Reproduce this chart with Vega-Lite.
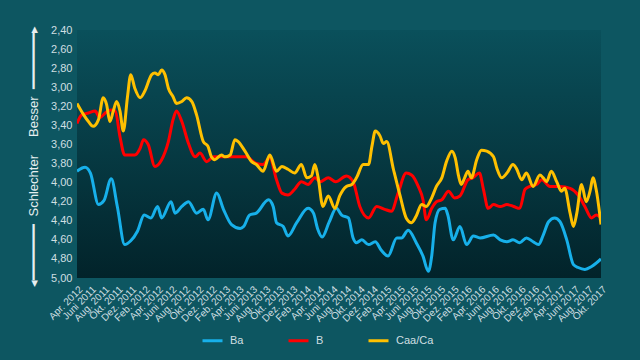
{
  "$schema": "https://vega.github.io/schema/vega-lite/v6.json",
  "autosize": "none",
  "padding": {"left": 77, "top": 30, "right": 39, "bottom": 82},
  "width": 524,
  "height": 248,
  "background": "#0d5661",
  "config": {
    "font": "Liberation Sans",
    "view": {"stroke": null, "fill": {"gradient": "linear", "x1": 0, "y1": 0, "x2": 0, "y2": 1, "stops": [{"offset": 0, "color": "#0a505b"}, {"offset": 1, "color": "#02232a"}]}}
  },
  "data": {"values": [
    {"s":"Ba","m":0,"v":3.88},{"s":"Ba","m":1.2,"v":3.84},{"s":"Ba","m":2,"v":3.9},{"s":"Ba","m":3.2,"v":4.23},{"s":"Ba","m":4,"v":4.19},{"s":"Ba","m":5.1,"v":3.96},{"s":"Ba","m":6,"v":4.25},{"s":"Ba","m":7.1,"v":4.65},{"s":"Ba","m":8,"v":4.61},{"s":"Ba","m":9,"v":4.51},{"s":"Ba","m":10,"v":4.34},{"s":"Ba","m":11,"v":4.37},{"s":"Ba","m":12,"v":4.25},{"s":"Ba","m":12.6,"v":4.37},{"s":"Ba","m":14,"v":4.2},{"s":"Ba","m":14.6,"v":4.32},{"s":"Ba","m":15.6,"v":4.25},{"s":"Ba","m":16.6,"v":4.2},{"s":"Ba","m":17.8,"v":4.32},{"s":"Ba","m":18.8,"v":4.28},{"s":"Ba","m":19.5,"v":4.39},{"s":"Ba","m":20.8,"v":4.11},{"s":"Ba","m":21.8,"v":4.28},{"s":"Ba","m":23,"v":4.44},{"s":"Ba","m":24.3,"v":4.48},{"s":"Ba","m":24.8,"v":4.46},{"s":"Ba","m":25.7,"v":4.34},{"s":"Ba","m":26.7,"v":4.32},{"s":"Ba","m":28.5,"v":4.18},{"s":"Ba","m":29.2,"v":4.25},{"s":"Ba","m":29.7,"v":4.42},{"s":"Ba","m":30.7,"v":4.46},{"s":"Ba","m":31.4,"v":4.56},{"s":"Ba","m":32.7,"v":4.42},{"s":"Ba","m":34.4,"v":4.27},{"s":"Ba","m":35.2,"v":4.32},{"s":"Ba","m":35.8,"v":4.48},{"s":"Ba","m":36.5,"v":4.57},{"s":"Ba","m":37.5,"v":4.42},{"s":"Ba","m":38.6,"v":4.27},{"s":"Ba","m":39.4,"v":4.34},{"s":"Ba","m":40.4,"v":4.37},{"s":"Ba","m":41.1,"v":4.58},{"s":"Ba","m":41.6,"v":4.63},{"s":"Ba","m":42.4,"v":4.6},{"s":"Ba","m":43.4,"v":4.65},{"s":"Ba","m":44.4,"v":4.62},{"s":"Ba","m":45.3,"v":4.71},{"s":"Ba","m":46.3,"v":4.77},{"s":"Ba","m":47.6,"v":4.58},{"s":"Ba","m":48.3,"v":4.58},{"s":"Ba","m":49.3,"v":4.5},{"s":"Ba","m":50.5,"v":4.63},{"s":"Ba","m":51.5,"v":4.77},{"s":"Ba","m":52.3,"v":4.93},{"s":"Ba","m":52.8,"v":4.77},{"s":"Ba","m":53.3,"v":4.42},{"s":"Ba","m":54,"v":4.28},{"s":"Ba","m":54.8,"v":4.27},{"s":"Ba","m":55.2,"v":4.34},{"s":"Ba","m":56,"v":4.6},{"s":"Ba","m":57,"v":4.46},{"s":"Ba","m":58,"v":4.65},{"s":"Ba","m":59,"v":4.56},{"s":"Ba","m":60,"v":4.58},{"s":"Ba","m":62,"v":4.55},{"s":"Ba","m":63,"v":4.6},{"s":"Ba","m":64,"v":4.62},{"s":"Ba","m":64.9,"v":4.6},{"s":"Ba","m":65.9,"v":4.63},{"s":"Ba","m":66.9,"v":4.58},{"s":"Ba","m":67.9,"v":4.62},{"s":"Ba","m":68.7,"v":4.65},{"s":"Ba","m":69.4,"v":4.55},{"s":"Ba","m":70.2,"v":4.41},{"s":"Ba","m":71.1,"v":4.37},{"s":"Ba","m":71.9,"v":4.41},{"s":"Ba","m":72.9,"v":4.6},{"s":"Ba","m":73.9,"v":4.86},{"s":"Ba","m":74.6,"v":4.89},{"s":"Ba","m":75.6,"v":4.91},{"s":"Ba","m":76.6,"v":4.88},{"s":"Ba","m":78,"v":4.8},
    {"s":"B","m":0,"v":3.38},{"s":"B","m":0.7,"v":3.29},{"s":"B","m":1.7,"v":3.27},{"s":"B","m":2.7,"v":3.25},{"s":"B","m":3.4,"v":3.32},{"s":"B","m":4.2,"v":3.27},{"s":"B","m":5,"v":3.24},{"s":"B","m":5.7,"v":3.25},{"s":"B","m":6.4,"v":3.52},{"s":"B","m":7.1,"v":3.71},{"s":"B","m":8.6,"v":3.71},{"s":"B","m":9.4,"v":3.64},{"s":"B","m":9.9,"v":3.55},{"s":"B","m":10.6,"v":3.6},{"s":"B","m":11.6,"v":3.83},{"s":"B","m":12.6,"v":3.76},{"s":"B","m":13.6,"v":3.57},{"s":"B","m":14.3,"v":3.34},{"s":"B","m":14.8,"v":3.25},{"s":"B","m":15.6,"v":3.36},{"s":"B","m":16.6,"v":3.59},{"s":"B","m":17.6,"v":3.73},{"s":"B","m":18.3,"v":3.69},{"s":"B","m":19.3,"v":3.78},{"s":"B","m":20.3,"v":3.73},{"s":"B","m":21.8,"v":3.73},{"s":"B","m":23.3,"v":3.73},{"s":"B","m":25.2,"v":3.73},{"s":"B","m":26.7,"v":3.8},{"s":"B","m":27.7,"v":3.81},{"s":"B","m":28.7,"v":3.74},{"s":"B","m":29.7,"v":3.97},{"s":"B","m":30.5,"v":4.11},{"s":"B","m":31.4,"v":4.13},{"s":"B","m":32.4,"v":4.07},{"s":"B","m":33.4,"v":3.99},{"s":"B","m":34.4,"v":4.02},{"s":"B","m":35.4,"v":3.95},{"s":"B","m":36.2,"v":3.99},{"s":"B","m":37.4,"v":3.95},{"s":"B","m":38.5,"v":3.99},{"s":"B","m":40.1,"v":3.93},{"s":"B","m":41.1,"v":3.99},{"s":"B","m":42.1,"v":4.25},{"s":"B","m":43.4,"v":4.37},{"s":"B","m":44.6,"v":4.25},{"s":"B","m":45.8,"v":4.28},{"s":"B","m":46.8,"v":4.3},{"s":"B","m":47.8,"v":4.11},{"s":"B","m":49,"v":3.9},{"s":"B","m":49.8,"v":3.92},{"s":"B","m":50.8,"v":4.04},{"s":"B","m":51.5,"v":4.18},{"s":"B","m":52,"v":4.39},{"s":"B","m":52.8,"v":4.27},{"s":"B","m":53.5,"v":4.2},{"s":"B","m":54.3,"v":4.18},{"s":"B","m":55.3,"v":4.09},{"s":"B","m":56.2,"v":4.16},{"s":"B","m":57,"v":4.14},{"s":"B","m":58.2,"v":3.97},{"s":"B","m":58.9,"v":3.95},{"s":"B","m":59.9,"v":3.9},{"s":"B","m":60.5,"v":4.07},{"s":"B","m":61.2,"v":4.27},{"s":"B","m":62,"v":4.23},{"s":"B","m":63,"v":4.25},{"s":"B","m":64,"v":4.23},{"s":"B","m":65,"v":4.25},{"s":"B","m":65.9,"v":4.27},{"s":"B","m":66.7,"v":4.07},{"s":"B","m":67.4,"v":4.04},{"s":"B","m":68.4,"v":4.02},{"s":"B","m":69.2,"v":3.97},{"s":"B","m":70.4,"v":4.04},{"s":"B","m":71.9,"v":4.04},{"s":"B","m":73.4,"v":4.06},{"s":"B","m":74.6,"v":4.13},{"s":"B","m":75.6,"v":4.25},{"s":"B","m":76.6,"v":4.37},{"s":"B","m":77.3,"v":4.34},{"s":"B","m":78,"v":4.37},
    {"s":"Caa/Ca","m":0,"v":3.17},{"s":"Caa/Ca","m":1,"v":3.29},{"s":"Caa/Ca","m":1.7,"v":3.36},{"s":"Caa/Ca","m":2.4,"v":3.41},{"s":"Caa/Ca","m":3.2,"v":3.34},{"s":"Caa/Ca","m":3.9,"v":3.11},{"s":"Caa/Ca","m":4.4,"v":3.18},{"s":"Caa/Ca","m":4.9,"v":3.36},{"s":"Caa/Ca","m":5.4,"v":3.25},{"s":"Caa/Ca","m":5.9,"v":3.15},{"s":"Caa/Ca","m":6.4,"v":3.25},{"s":"Caa/Ca","m":6.9,"v":3.46},{"s":"Caa/Ca","m":7.5,"v":3.11},{"s":"Caa/Ca","m":8,"v":2.87},{"s":"Caa/Ca","m":8.6,"v":3.01},{"s":"Caa/Ca","m":9.4,"v":3.11},{"s":"Caa/Ca","m":10.1,"v":3.04},{"s":"Caa/Ca","m":11.1,"v":2.87},{"s":"Caa/Ca","m":11.6,"v":2.85},{"s":"Caa/Ca","m":12.1,"v":2.87},{"s":"Caa/Ca","m":12.6,"v":2.82},{"s":"Caa/Ca","m":13.1,"v":2.87},{"s":"Caa/Ca","m":13.6,"v":3.01},{"s":"Caa/Ca","m":14.3,"v":3.1},{"s":"Caa/Ca","m":14.8,"v":3.17},{"s":"Caa/Ca","m":15.6,"v":3.15},{"s":"Caa/Ca","m":16.3,"v":3.11},{"s":"Caa/Ca","m":17.1,"v":3.15},{"s":"Caa/Ca","m":17.8,"v":3.29},{"s":"Caa/Ca","m":18.8,"v":3.57},{"s":"Caa/Ca","m":19.5,"v":3.62},{"s":"Caa/Ca","m":20,"v":3.73},{"s":"Caa/Ca","m":20.5,"v":3.76},{"s":"Caa/Ca","m":21.5,"v":3.71},{"s":"Caa/Ca","m":22,"v":3.73},{"s":"Caa/Ca","m":22.8,"v":3.71},{"s":"Caa/Ca","m":23.5,"v":3.55},{"s":"Caa/Ca","m":24,"v":3.57},{"s":"Caa/Ca","m":25,"v":3.67},{"s":"Caa/Ca","m":26,"v":3.78},{"s":"Caa/Ca","m":26.7,"v":3.81},{"s":"Caa/Ca","m":27.7,"v":3.88},{"s":"Caa/Ca","m":28.7,"v":3.71},{"s":"Caa/Ca","m":29.7,"v":3.88},{"s":"Caa/Ca","m":30.5,"v":3.83},{"s":"Caa/Ca","m":31.4,"v":3.86},{"s":"Caa/Ca","m":32.4,"v":3.9},{"s":"Caa/Ca","m":33.4,"v":3.81},{"s":"Caa/Ca","m":34.2,"v":3.95},{"s":"Caa/Ca","m":34.9,"v":3.93},{"s":"Caa/Ca","m":35.4,"v":3.81},{"s":"Caa/Ca","m":35.9,"v":3.95},{"s":"Caa/Ca","m":36.6,"v":4.25},{"s":"Caa/Ca","m":37.4,"v":4.14},{"s":"Caa/Ca","m":38.4,"v":4.27},{"s":"Caa/Ca","m":39.1,"v":4.14},{"s":"Caa/Ca","m":40.1,"v":4.04},{"s":"Caa/Ca","m":40.9,"v":4.02},{"s":"Caa/Ca","m":41.6,"v":3.95},{"s":"Caa/Ca","m":42.6,"v":3.81},{"s":"Caa/Ca","m":43.4,"v":3.81},{"s":"Caa/Ca","m":43.9,"v":3.62},{"s":"Caa/Ca","m":44.4,"v":3.46},{"s":"Caa/Ca","m":45.1,"v":3.51},{"s":"Caa/Ca","m":45.6,"v":3.59},{"s":"Caa/Ca","m":46.1,"v":3.57},{"s":"Caa/Ca","m":47.1,"v":3.86},{"s":"Caa/Ca","m":48.1,"v":4.14},{"s":"Caa/Ca","m":49,"v":4.37},{"s":"Caa/Ca","m":49.8,"v":4.42},{"s":"Caa/Ca","m":50.5,"v":4.35},{"s":"Caa/Ca","m":51.3,"v":4.23},{"s":"Caa/Ca","m":52,"v":4.25},{"s":"Caa/Ca","m":52.8,"v":4.16},{"s":"Caa/Ca","m":53.5,"v":4.04},{"s":"Caa/Ca","m":54.3,"v":3.95},{"s":"Caa/Ca","m":55,"v":3.78},{"s":"Caa/Ca","m":55.8,"v":3.67},{"s":"Caa/Ca","m":56.3,"v":3.74},{"s":"Caa/Ca","m":56.8,"v":3.93},{"s":"Caa/Ca","m":57.2,"v":4.02},{"s":"Caa/Ca","m":57.7,"v":3.95},{"s":"Caa/Ca","m":58.2,"v":3.88},{"s":"Caa/Ca","m":58.7,"v":3.95},{"s":"Caa/Ca","m":59.5,"v":3.76},{"s":"Caa/Ca","m":60.2,"v":3.66},{"s":"Caa/Ca","m":61,"v":3.67},{"s":"Caa/Ca","m":62,"v":3.73},{"s":"Caa/Ca","m":62.5,"v":3.85},{"s":"Caa/Ca","m":63.2,"v":3.95},{"s":"Caa/Ca","m":64,"v":3.9},{"s":"Caa/Ca","m":64.9,"v":3.81},{"s":"Caa/Ca","m":65.4,"v":3.85},{"s":"Caa/Ca","m":66.2,"v":3.97},{"s":"Caa/Ca","m":66.9,"v":3.9},{"s":"Caa/Ca","m":67.9,"v":4.04},{"s":"Caa/Ca","m":68.9,"v":3.92},{"s":"Caa/Ca","m":69.4,"v":3.95},{"s":"Caa/Ca","m":69.9,"v":3.99},{"s":"Caa/Ca","m":70.6,"v":3.88},{"s":"Caa/Ca","m":71.4,"v":3.99},{"s":"Caa/Ca","m":72.1,"v":4.09},{"s":"Caa/Ca","m":72.6,"v":4.06},{"s":"Caa/Ca","m":73.4,"v":4.32},{"s":"Caa/Ca","m":73.9,"v":4.46},{"s":"Caa/Ca","m":74.4,"v":4.32},{"s":"Caa/Ca","m":75.1,"v":4.02},{"s":"Caa/Ca","m":75.8,"v":4.2},{"s":"Caa/Ca","m":76.4,"v":4.08},{"s":"Caa/Ca","m":76.8,"v":3.95},{"s":"Caa/Ca","m":77.3,"v":4.08},{"s":"Caa/Ca","m":78,"v":4.44}
  ]},
  "mark": {"type": "line", "interpolate": "monotone", "strokeWidth": 3, "clip": true},
  "encoding": {
    "x": {"field": "m", "type": "quantitative", "scale": {"domain": [0, 78], "nice": false, "zero": false},
      "axis": {"title": null, "grid": false, "domain": false, "ticks": false, "values": [0,2,4,6,8,10,12,14,16,18,20,22,24,26,28,30,32,34,36,38,40,42,44,46,48,50,52,54,56,58,60,62,64,66,68,70,72,74,76,78],
        "labelExpr": "['Apr. 2012','Juni 2011','Aug. 2011','Okt. 2011','Dez. 2011','Feb. 2012','Apr. 2012','Juni 2012','Aug. 2012','Okt. 2012','Dez. 2012','Feb. 2013','Apr. 2013','Juni 2013','Aug. 2013','Okt. 2013','Dez. 2013','Feb. 2014','Apr. 2014','Juni 2014','Aug. 2014','Okt. 2014','Dez. 2014','Feb. 2015','Apr. 2015','Juni 2015','Aug. 2015','Okt. 2015','Dez. 2015','Feb. 2016','Apr. 2016','Juni 2016','Aug. 2016','Okt. 2016','Dez. 2016','Feb. 2017','Apr. 2017','Juni 2017','Aug. 2017','Okt. 2017'][round(datum.value/2)]",
        "labelAngle": -45, "labelFontSize": 10, "labelColor": "#cfdfe2", "labelOverlap": false, "labelPadding": 6, "labelFlush": false, "labelBound": false}},
    "y": {"field": "v", "type": "quantitative", "scale": {"domain": [2.4, 5.0], "reverse": true, "nice": false, "zero": false},
      "axis": {"grid": false, "domain": false, "ticks": false, "values": [2.4,2.6,2.8,3.0,3.2,3.4,3.6,3.8,4.0,4.2,4.4,4.6,4.8,5.0],
        "labelExpr": "replace(format(datum.value, '.2f'), '.', ',')", "labelFontSize": 11, "labelColor": "#cfdfe2", "labelPadding": 5, "labelFlush": false, "labelOverlap": false,
        "title": "◂━━━━━━━\u00a0\u00a0Schlechter\u00a0\u00a0\u00a0\u00a0\u00a0Besser\u00a0\u00a0━━━━━━━▸", "titleFontSize": 13, "titleFontWeight": "normal", "titleColor": "#e6eef0", "titleX": -44, "titleY": 126, "titleAlign": "center", "titleBaseline": "middle", "titleAngle": -90}},
    "color": {"field": "s", "type": "nominal", "scale": {"domain": ["Ba", "B", "Caa/Ca"], "range": ["#17b0ea", "#ff0000", "#ffc000"]},
      "legend": {"title": null, "orient": "none", "direction": "horizontal", "legendX": 124, "legendY": 299, "symbolType": "stroke", "symbolSize": 400, "symbolStrokeWidth": 3, "labelFontSize": 11, "labelColor": "#cfdfe2", "labelOffset": 6, "columnPadding": 38, "padding": 0}}
  }
}
